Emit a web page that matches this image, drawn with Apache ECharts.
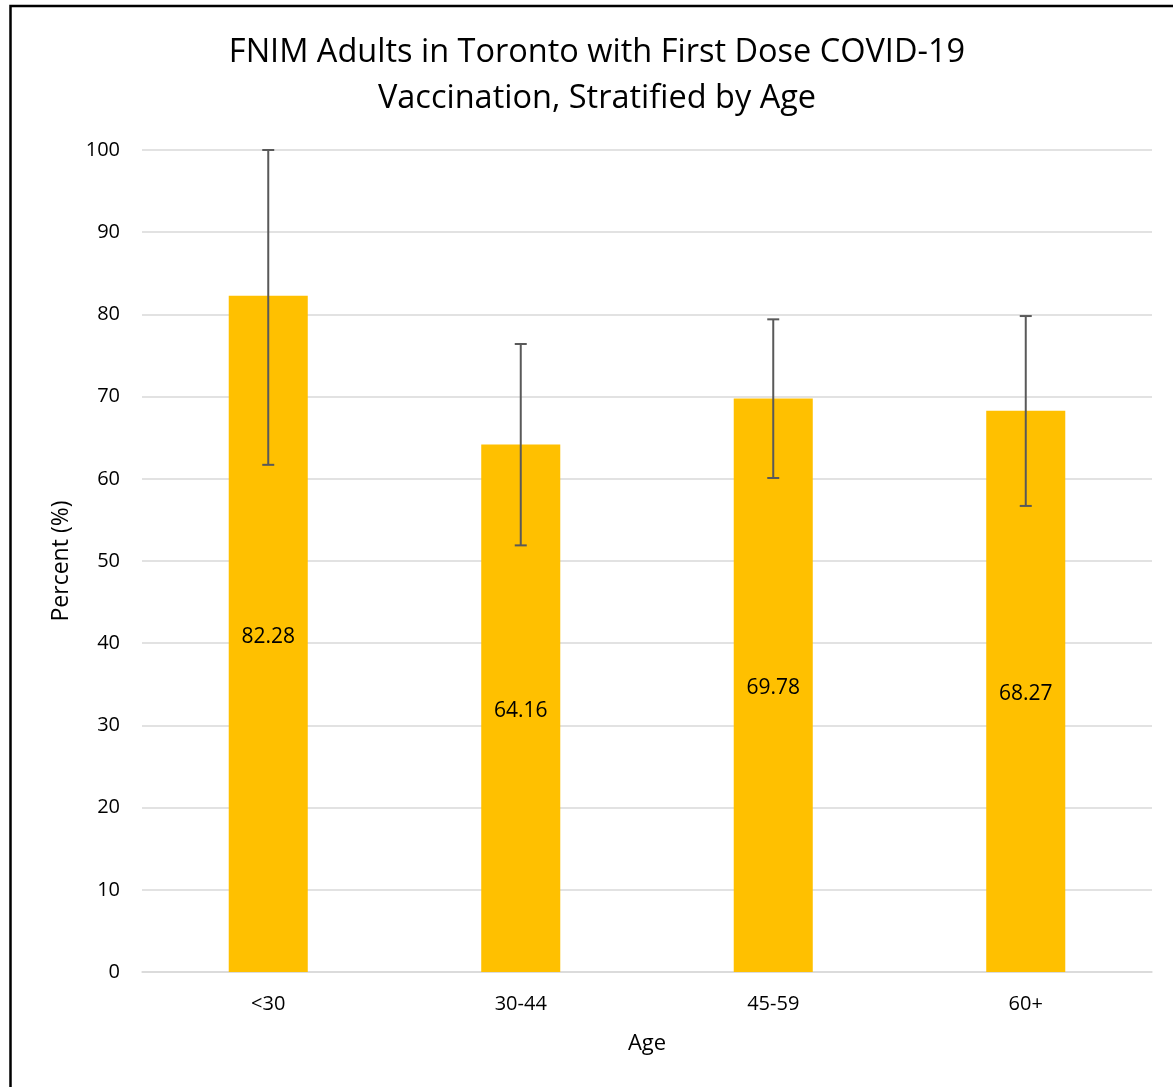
<!DOCTYPE html>
<html><head><meta charset="utf-8">
<script src="https://cdn.jsdelivr.net/npm/echarts@6/dist/echarts.min.js"></script>
<style>html,body{margin:0;padding:0;background:#fff}#c{width:1173px;height:1087px}</style>
</head><body><div id="c"></div>
<script>
const categories = ['<30', '30-44', '45-59', '60+'];
const values = [82.28, 64.16, 69.78, 68.27];
const errLow = [61.7, 51.9, 60.1, 56.7];
const errHigh = [100, 76.4, 79.4, 79.8];
const yTicks = [0, 10, 20, 30, 40, 50, 60, 70, 80, 90, 100];

const FONT = '"Open Sans", "Noto Sans", sans-serif';
const chart = echarts.init(document.getElementById('c'));
chart.setOption({
  animation: false,
  textStyle: { fontFamily: FONT },
  graphic: [{
    type: 'rect', silent: true, z: 100,
    shape: { x: 10.5, y: 6, width: 1200, height: 1200 },
    style: { fill: 'none', stroke: '#000', lineWidth: 2.5 }
  }],
  title: {
    text: 'FNIM Adults in Toronto with First Dose COVID-19\nVaccination, Stratified by Age',
    left: 592, top: 25, textAlign: 'center',
    textStyle: { fontFamily: FONT, fontSize: 32.5, fontWeight: 'normal', color: '#000', lineHeight: 46 }
  },
  grid: { left: 142, right: 21, top: 150, bottom: 115, containLabel: false },
  xAxis: {
    type: 'category', data: categories,
    name: 'Age', nameLocation: 'middle', nameGap: 61,
    nameTextStyle: { fontSize: 22, color: '#000', fontFamily: FONT },
    axisLine: { lineStyle: { color: '#d9d9d9', width: 1.5 } },
    axisTick: { show: false },
    axisLabel: { fontSize: 20, color: '#000', margin: 22, fontFamily: FONT }
  },
  yAxis: {
    type: 'value', min: 0, max: 100, interval: 10,
    name: 'Percent (%)', nameLocation: 'middle', nameGap: 69,
    nameTextStyle: { fontSize: 23, color: '#000', fontFamily: FONT },
    axisLine: { show: false }, axisTick: { show: false },
    axisLabel: { fontSize: 20, color: '#000', margin: 22, fontFamily: FONT,
      formatter: v => yTicks.includes(v) ? String(v) : '' },
    splitLine: { lineStyle: { color: '#d9d9d9', width: 1.5 } }
  },
  series: [{
    type: 'bar', data: values, barWidth: '31.3%',
    itemStyle: { color: '#ffc000' },
    label: { show: true, position: 'inside', offset: [0, 3], color: '#000', fontSize: 21, fontFamily: FONT,
      formatter: p => p.value.toFixed(2) }
  }, {
    type: 'custom', z: 10,
    data: categories.map((c, i) => [i, errLow[i], errHigh[i]]),
    renderItem: (params, api) => {
      const lo = api.coord([api.value(0), api.value(1)]);
      const hi = api.coord([api.value(0), api.value(2)]);
      const w = 6;
      const st = { stroke: '#595959', lineWidth: 2 };
      return { type: 'group', children: [
        { type: 'line', shape: { x1: hi[0], y1: hi[1], x2: lo[0], y2: lo[1] }, style: st },
        { type: 'line', shape: { x1: hi[0] - w, y1: hi[1], x2: hi[0] + w, y2: hi[1] }, style: st },
        { type: 'line', shape: { x1: lo[0] - w, y1: lo[1], x2: lo[0] + w, y2: lo[1] }, style: st }
      ]};
    }
  }]
});
</script></body></html>
